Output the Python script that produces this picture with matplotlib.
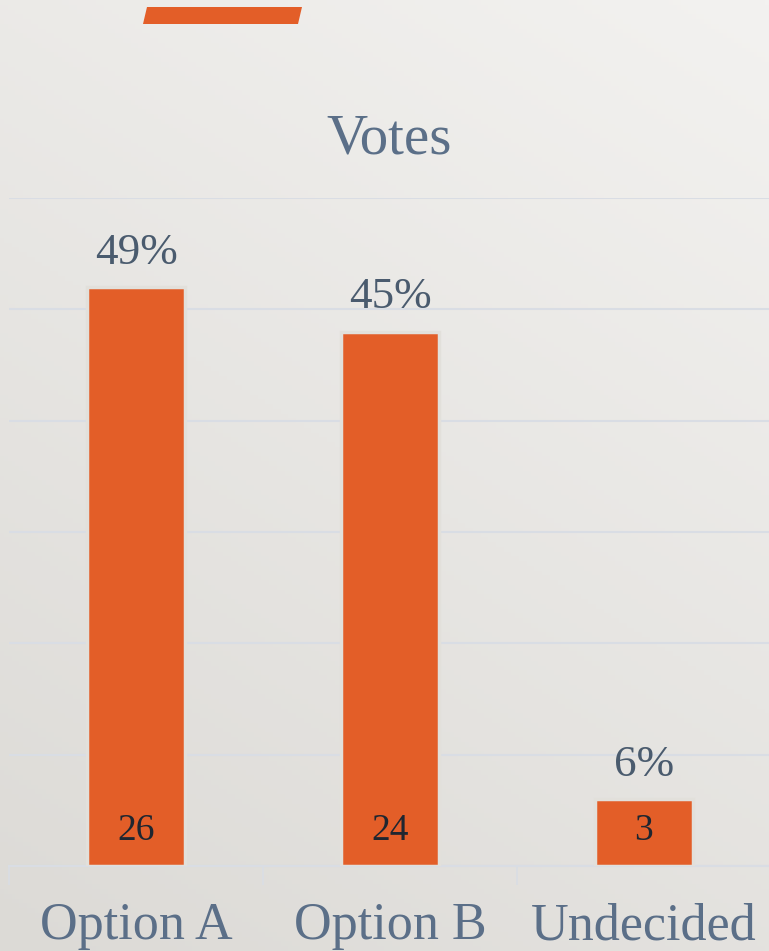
import numpy as np
import matplotlib
matplotlib.use("Agg")
import matplotlib.pyplot as plt
from matplotlib.patches import Polygon

categories = ["Option A", "Option B", "Undecided"]
votes = [26, 24, 3]
percents = ["49%", "45%", "6%"]
title = "Votes"

W, H = 769, 951
fig = plt.figure(figsize=(W / 100, H / 100), dpi=100)

# background gradient (light top-right -> darker bottom-left)
bg = fig.add_axes([0, 0, 1, 1], zorder=-10)
yy, xx = np.mgrid[0:1:200j, 0:1:200j]
t = (xx * 0.45 + yy * 0.9) / 1.35
c0 = np.array([0xdc, 0xda, 0xd6]) / 255
c1 = np.array([0xf3, 0xf2, 0xf0]) / 255
img = c0[None, None, :] * (1 - t[..., None]) + c1[None, None, :] * t[..., None]
bg.imshow(img, origin="lower", extent=[0, 1, 0, 1], aspect="auto")
bg.axis("off")

# decorative accent bar at top
fig.patches.append(Polygon([(147 / W, 1 - 7 / H), (302 / W, 1 - 7 / H),
                            (298 / W, 1 - 24 / H), (143 / W, 1 - 24 / H)],
                           closed=True, transform=fig.transFigure,
                           facecolor="#e35e28", edgecolor="none"))

orange = "#e35e28"
slate = "#5b6f88"
dark_slate = "#4a5b6e"

left, right = 9 / W, 771 / W
bottom, top = 1 - 866 / H, 1 - 198 / H
ax = fig.add_axes([left, bottom, right - left, top - bottom])
ax.set_facecolor("none")
x = np.arange(len(categories))
bars = ax.bar(x, votes, width=0.385, color=orange, edgecolor="#e2e0db",
              linewidth=2.5, zorder=3)
ax.set_xlim(-0.5, len(categories) - 0.5)
ax.set_ylim(0, 30)
ax.set_yticks(np.arange(0, 31, 5))
ax.yaxis.grid(True, color="#d9dde4", linewidth=1.5, zorder=0)
ax.tick_params(axis="y", left=False, labelleft=False)
for s in ["left", "right", "top"]:
    ax.spines[s].set_visible(False)
ax.spines["bottom"].set_color("#d9dde4")
ax.spines["bottom"].set_linewidth(1.5)

ax.set_xticks(np.arange(-0.5, len(categories), 1.0), minor=False)
ax.set_xticklabels([])
ax.tick_params(axis="x", which="major", length=14, color="#d9dde4", width=1.2)
ax.set_xticks(x, minor=True)
ax.set_xticklabels(categories, minor=True, fontsize=37.5, color=slate,
                   family="Liberation Serif")
ax.tick_params(axis="x", which="minor", length=0, pad=26)

for b, v, p in zip(bars, votes, percents):
    cx = b.get_x() + b.get_width() / 2
    ax.text(cx, 1.6, str(v), ha="center", va="center", fontsize=27,
            color="#1f2630", family="Liberation Serif", zorder=4)
    ax.text(cx, v + 0.65, p, ha="center", va="bottom", fontsize=32.5,
            color=dark_slate, family="Liberation Serif", zorder=4)

fig.text(389 / W, 1 - 140 / H, title, ha="center", va="center", fontsize=41,
         color=slate, family="Liberation Serif")

fig.savefig("out.png", dpi=100)
